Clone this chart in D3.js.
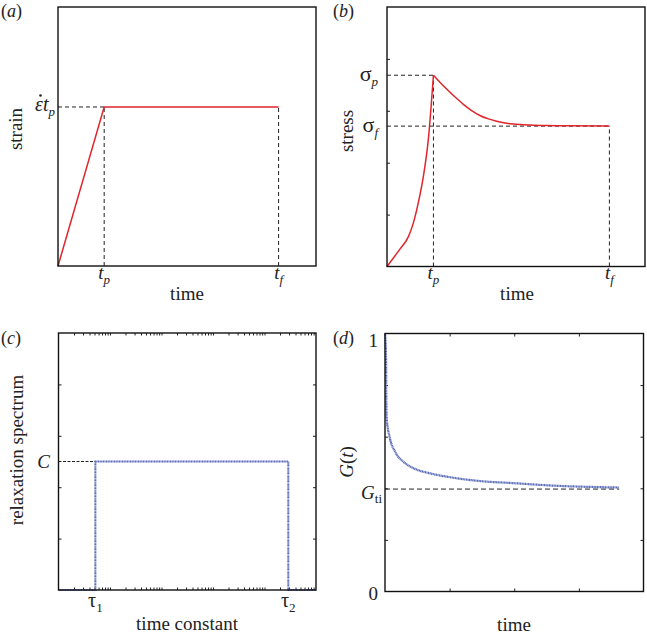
<!DOCTYPE html>
<html><head><meta charset="utf-8">
<script src="https://cdn.jsdelivr.net/npm/d3@7"></script>
<style>
body{margin:0;background:#fff}
text{font-family:'Liberation Serif','Times New Roman',serif;fill:#222}
</style>
</head><body>
<svg id="chart" width="647" height="635"></svg>
<script>
// ---- data ----
// (a) strain history
const strainTime  = [0, 0.179, 0.855];
const strainValue = [0, 0.614, 0.614];
const strainTp = 0.179, strainTf = 0.855, strainLevel = 0.614;
// (b) stress response
const stressRiseTime  = [0, 0.050, 0.083, 0.102, 0.121, 0.141, 0.160, 0.180];
const stressRiseValue = [0, 0.067, 0.115, 0.167, 0.244, 0.347, 0.488, 0.737];
const stressDecayTime  = [0.180, 0.205, 0.231, 0.264, 0.296, 0.328, 0.360, 0.393, 0.425, 0.457, 0.490, 0.554, 0.619, 0.700, 0.862];
const stressDecayValue = [0.737, 0.710, 0.684, 0.653, 0.625, 0.601, 0.582, 0.569, 0.560, 0.553, 0.549, 0.545, 0.543, 0.542, 0.541];
const stressTp = 0.180, stressTf = 0.862, sigmaP = 0.737, sigmaF = 0.541;
const stressTicks = [0.2, 0.4, 0.6, 0.8];
// (c) relaxation spectrum (box spectrum)
const tauValues  = [0.01, 0.052, 0.052, 290, 290, 1000];
const specValues = [0, 0, 0.5, 0.5, 0, 0];
const tau1 = 0.052, tau2 = 290, specC = 0.5;
const specTicks = [0.2, 0.4, 0.6, 0.8];
// (d) relaxation function G(t)
const gTime  = [0, 0.004, 0.005, 0.0066, 0.019, 0.039, 0.071, 0.110, 0.174, 0.239, 0.368, 0.497, 0.639, 0.906];
const gValue = [1, 0.904, 0.735, 0.671, 0.594, 0.542, 0.503, 0.478, 0.458, 0.445, 0.428, 0.420, 0.411, 0.403];
const gTi = 0.397;
const gYTicks = [0.2, 0.4, 0.6, 0.8];
const gXTicks = [0.25, 0.5, 0.75];
const gYLabels = ["0", "1"];

const svg = d3.select('#chart');
const RED = '#e0262c', BLUE = '#5a6cb8';

function frame(x, y) {
  const [x0, x1] = x.range(), [y0, y1] = y.range();
  svg.append('rect').attr('x', x0).attr('y', y1).attr('width', x1 - x0).attr('height', y0 - y1)
    .attr('fill', 'none').attr('stroke', '#111').attr('stroke-width', 1.4);
}
function ticks(axisFn, scale, vals, tx, ty, size) {
  const g = svg.append('g').attr('transform', `translate(${tx},${ty})`)
    .call(axisFn(scale).tickValues(vals).tickSize(size).tickFormat(''));
  g.select('.domain').remove();
  g.selectAll('line').attr('stroke', '#222').attr('stroke-width', 1);
}
function dash(x, y, xs, ys, da) {
  svg.append('path').attr('d', d3.line().x((d, i) => x(xs[i])).y((d, i) => y(ys[i]))(xs))
    .attr('fill', 'none').attr('stroke', '#222').attr('stroke-width', 1).attr('stroke-dasharray', da || '4,3');
}
function curve(x, y, xs, ys, color, w, crv, da) {
  const p = svg.append('path').attr('d', d3.line().curve(crv || d3.curveLinear)
      .x((d, i) => x(xs[i])).y((d, i) => y(ys[i]))(xs))
    .attr('fill', 'none').attr('stroke', color).attr('stroke-width', w);
  if (da) p.attr('stroke-dasharray', da);
}
function subLabel(x, y, main, sub, opts) {
  opts = opts || {};
  const t = svg.append('text').attr('x', x).attr('y', y).attr('text-anchor', opts.anchor || 'middle')
    .attr('font-size', opts.size || 19);
  t.append('tspan').attr('font-style', opts.mainItalic === false ? 'normal' : 'italic').text(main);
  t.append('tspan').attr('font-size', opts.subSize || 13).attr('dy', opts.subDy || 5)
    .attr('font-style', opts.subItalic === false ? 'normal' : 'italic').text(sub);
  return t;
}
function axisTitle(x, y, txt, rot) {
  const t = svg.append('text').attr('text-anchor', 'middle').attr('font-size', 19);
  if (rot) t.attr('transform', `translate(${x},${y}) rotate(-90)`); else t.attr('x', x).attr('y', y);
  return t.text(txt);
}
function panelLabel(x, y, letter) {
  const t = svg.append('text').attr('x', x).attr('y', y).attr('font-size', 18);
  t.append('tspan').text('(');
  t.append('tspan').attr('font-style', 'italic').text(letter);
  t.append('tspan').text(')');
}

// ---- (a) ----
{
  const x = d3.scaleLinear([0, 1], [58, 316]);
  const y = d3.scaleLinear([0, 1], [266, 7]);
  dash(x, y, [0, strainTp], [strainLevel, strainLevel]);
  dash(x, y, [strainTp, strainTp], [0, strainLevel]);
  dash(x, y, [strainTf, strainTf], [0, strainLevel]);
  curve(x, y, strainTime, strainValue, RED, 1.5);
  frame(x, y);
  // ε t_p label with the rate dot drawn above ε
  const lab = subLabel(55, y(strainLevel) + 4, '\u03B5t', 'p', {anchor: 'end', size: 20});
  const n = lab.node();
  const s0 = n.getStartPositionOfChar(0).x, e0 = n.getEndPositionOfChar(0).x;
  svg.append('circle').attr('cx', (s0 + e0) / 2 + 1.5).attr('cy', y(strainLevel) - 11.5)
    .attr('r', 1.3).attr('fill', '#222');
  subLabel(x(strainTp), 279, 't', 'p');
  subLabel(x(strainTf), 279, 't', 'f');
  axisTitle(187, 300, 'time');
  axisTitle(22, 129, 'strain', true);
  panelLabel(1, 17, 'a');
}
// ---- (b) ----
{
  const x = d3.scaleLinear([0, 1], [387, 645]);
  const y = d3.scaleLinear([0, 1], [266.5, 7]);
  ticks(d3.axisLeft, y, stressTicks, x.range()[0], 0, -3);
  dash(x, y, [0, stressTp], [sigmaP, sigmaP]);
  dash(x, y, [0, stressTf], [sigmaF, sigmaF]);
  dash(x, y, [stressTp, stressTp], [0, sigmaP]);
  dash(x, y, [stressTf, stressTf], [0, sigmaF]);
  curve(x, y, stressRiseTime, stressRiseValue, RED, 1.5, d3.curveMonotoneX);
  curve(x, y, stressDecayTime, stressDecayValue, RED, 1.5, d3.curveMonotoneX);
  frame(x, y);
  subLabel(378, y(sigmaP) + 6, '\u03C3', 'p', {anchor: 'end', mainItalic: false, size: 22});
  subLabel(378, y(sigmaF) + 6, '\u03C3', 'f', {anchor: 'end', mainItalic: false, size: 22});
  subLabel(x(stressTp), 279, 't', 'p');
  subLabel(x(stressTf), 279, 't', 'f');
  axisTitle(517, 300, 'time');
  axisTitle(353, 131, 'stress', true);
  panelLabel(333, 17, 'b');
}
// ---- (c) ----
{
  const x = d3.scaleLog([0.01, 1000], [58.5, 316]);
  const y = d3.scaleLinear([0, 1], [590, 333]);
  const logTicks = x.ticks().filter(v => v > 0.01 && v < 1000);
  ticks(d3.axisLeft, y, specTicks, x.range()[0], 0, -3);
  ticks(d3.axisRight, y, specTicks, x.range()[1], 0, -3);
  ticks(d3.axisBottom, x, logTicks, 0, y.range()[0], -2.5);
  ticks(d3.axisTop, x, logTicks, 0, y.range()[1], -2.5);
  dash(x, y, [0.01, tau1], [specC, specC], '3,1.5');
  curve(x, y, tauValues, specValues, BLUE, 2, d3.curveLinear, '1.2,0.4');
  frame(x, y);
  svg.append('text').attr('x', 50).attr('y', y(specC) + 6).attr('text-anchor', 'end')
    .attr('font-size', 19).attr('font-style', 'italic').text('C');
  subLabel(x(tau1), 607, '\u03C4', '1', {mainItalic: false, subItalic: false, size: 20});
  subLabel(x(tau2), 607, '\u03C4', '2', {mainItalic: false, subItalic: false, size: 20});
  axisTitle(187, 630, 'time constant');
  axisTitle(23, 450, 'relaxation spectrum', true);
  panelLabel(1, 344, 'c');
}
// ---- (d) ----
{
  const x = d3.scaleLinear([0, 1], [385, 643.5]);
  const y = d3.scaleLinear([0, 1], [591.5, 333.5]);
  ticks(d3.axisLeft, y, gYTicks, x.range()[0], 0, -3);
  ticks(d3.axisRight, y, gYTicks, x.range()[1], 0, -3);
  ticks(d3.axisBottom, x, gXTicks, 0, y.range()[0], -3);
  ticks(d3.axisTop, x, gXTicks, 0, y.range()[1], -3);
  dash(x, y, [0, gTime[gTime.length - 1]], [gTi, gTi], '5,3');
  curve(x, y, gTime, gValue, BLUE, 2.2, d3.curveMonotoneX, '1.2,0.4');
  frame(x, y);
  svg.append('text').attr('x', 378).attr('y', y(1) + 13).attr('text-anchor', 'end').attr('font-size', 19).text(gYLabels[1]);
  svg.append('text').attr('x', 378).attr('y', y(0) + 8).attr('text-anchor', 'end').attr('font-size', 19).text(gYLabels[0]);
  subLabel(382, y(gTi) + 10, 'G', 'ti', {anchor: 'end', subItalic: false, subDy: 4});
  axisTitle(514, 631, 'time');
  const gt = svg.append('text').attr('text-anchor', 'middle').attr('font-size', 19)
    .attr('transform', `translate(353,462) rotate(-90)`);
  gt.append('tspan').attr('font-style', 'italic').text('G');
  gt.append('tspan').text('(');
  gt.append('tspan').attr('font-style', 'italic').text('t');
  gt.append('tspan').text(')');
  panelLabel(333, 344, 'd');
}
</script>
</body></html>
